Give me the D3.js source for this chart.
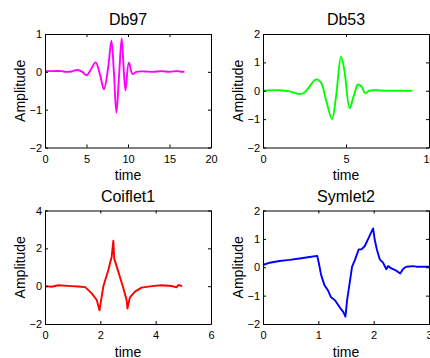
<!DOCTYPE html>
<html><head><meta charset="utf-8">
<script src="https://cdn.jsdelivr.net/npm/d3@7"></script>
<style>
body{margin:0;background:#fff}
svg{display:block}
text{font-family:Arial,"Liberation Sans",sans-serif;fill:#000}
</style>
</head><body><svg id="c" width="430" height="358"></svg>
<script>
// ---- data ----
const titles = ["Db97", "Db53", "Coiflet1", "Symlet2"];
const xLabel = "time";
const yLabel = "Amplitude";

const db97Time = [0,1,2,2.5,3.2,3.9,4.5,5.0,5.5,6.1,6.6,7.1,7.6,8.0,8.3,8.6,8.95,9.24,9.5,9.7,10.1,10.56,11.0,12,13,14,15,16,16.5,16.8];
const db97Amp  = [0.02,0.02,0.02,0.0,0.01,0.05,0.0,-0.09,0.05,0.25,-0.05,-0.46,0.1,0.82,0.0,-1.08,0.0,0.88,0.0,-0.49,0.24,-0.06,0.0,0.01,0.0,0.02,0.0,0.02,0.0,0.01];

const db53Time = [0,1.0,1.6,2.2,2.5,3.2,3.5,3.8,4.16,4.4,4.7,4.9,5.22,5.46,5.72,5.94,6.16,6.4,6.7,7.5,8.3,9.0];
const db53Amp  = [0,0.02,-0.02,-0.12,-0.06,0.4,0.28,-0.33,-1.0,-0.2,1.2,0.73,-0.62,-0.2,0.22,0.14,-0.09,0.0,0.02,0.0,0.0,0.0];

const coifTime = [0,0.24,0.48,0.96,1.2,1.45,1.69,1.87,1.97,2.11,2.29,2.41,2.47,2.5,2.65,2.83,2.95,2.98,3.07,3.25,3.49,3.86,4.2,4.58,4.76,4.82,4.96];
const coifAmp  = [0.0,-0.03,0.05,0.0,-0.02,-0.05,-0.38,-0.73,-1.28,0.0,0.85,1.56,2.4,1.47,0.77,-0.1,-0.73,-1.18,-0.59,-0.29,-0.08,0.0,0.05,0.01,-0.06,0.06,0.0];

const symTime = [0,0.12,0.3,0.48,0.66,0.84,0.98,1.01,1.05,1.11,1.17,1.23,1.3,1.39,1.45,1.49,1.52,1.57,1.61,1.66,1.73,1.78,1.84,1.92,1.99,2.02,2.06,2.11,2.17,2.23,2.26,2.32,2.41,2.48,2.53,2.59,2.71,2.77,3.0];
const symAmp  = [0.08,0.16,0.22,0.26,0.31,0.36,0.4,0.14,-0.27,-0.63,-0.8,-1.06,-1.16,-1.42,-1.57,-1.74,-1.16,-0.51,0.02,0.25,0.63,0.63,0.75,1.08,1.37,0.96,0.61,0.28,0.16,-0.07,0.04,-0.04,-0.12,-0.22,-0.06,0.02,0.04,0.02,0.02];

const xTicks = [[0,5,10,15,20],[0,5,10],[0,2,4,6],[0,1,2,3]];
const yTicks = [[-2,-1,0,1],[-2,-1,0,1,2],[-2,0,2,4],[-2,-1,0,1,2]];
const xDomains = [[0,20],[0,10],[0,6],[0,3]];
const yDomains = [[-2,1],[-2,2],[-2,4],[-2,2]];
const colors = ["#ff00ff","#00ff00","#ff0000","#0000ff"];
const smooth = [true, true, false, false];

const series = [
  [db97Time, db97Amp],
  [db53Time, db53Amp],
  [coifTime, coifAmp],
  [symTime, symAmp]
];

// ---- layout ----
const cols = [[45, 211], [263, 429]];
const rows = [[34, 147.5], [210.5, 324]];

const svg = d3.select("#c");

series.forEach((s, i) => {
  const col = cols[i % 2], row = rows[Math.floor(i / 2)];
  const x = d3.scaleLinear().domain(xDomains[i]).range(col);
  const y = d3.scaleLinear().domain(yDomains[i]).range([row[1], row[0]]);
  const g = svg.append("g");

  const data = s[0].map((t, k) => [t, s[1][k]]);
  const line = d3.line().x(d => x(d[0])).y(d => y(d[1]))
    .curve(smooth[i] ? d3.curveCatmullRom.alpha(0.5) : d3.curveLinear);
  g.append("path").datum(data).attr("d", line)
    .attr("fill", "none").attr("stroke", colors[i])
    .attr("stroke-width", 1.9).attr("stroke-linejoin", "round");

  const styleAxis = sel => {
    sel.selectAll("path.domain").attr("stroke", "#000").attr("stroke-width", 1);
    sel.selectAll(".tick line").attr("stroke", "#000");
    sel.selectAll("text").attr("font-size", 11).attr("fill", "#000")
      .attr("font-family", "Arial, 'Liberation Sans', sans-serif");
  };

  g.append("g").attr("transform", `translate(0,${row[1]})`)
    .call(d3.axisBottom(x).tickValues(xTicks[i]).tickFormat(d3.format("d"))
      .tickSizeInner(-3).tickSizeOuter(0).tickPadding(7.5))
    .call(styleAxis);
  g.append("g").attr("transform", `translate(0,${row[0]})`)
    .call(d3.axisTop(x).tickValues(xTicks[i]).tickFormat("")
      .tickSizeInner(-3).tickSizeOuter(0))
    .call(styleAxis);
  g.append("g").attr("transform", `translate(${col[0]},0)`)
    .call(d3.axisLeft(y).tickValues(yTicks[i]).tickFormat(d3.format("d"))
      .tickSizeInner(-3).tickSizeOuter(0).tickPadding(3))
    .call(styleAxis);
  g.append("g").attr("transform", `translate(${col[1]},0)`)
    .call(d3.axisRight(y).tickValues(yTicks[i]).tickFormat("")
      .tickSizeInner(-3).tickSizeOuter(0))
    .call(styleAxis);

  const cx = (col[0] + col[1]) / 2;
  g.append("text").attr("x", cx).attr("y", row[0] - 9)
    .attr("text-anchor", "middle").attr("font-size", 16).text(titles[i]);
  g.append("text").attr("x", cx).attr("y", row[1] + 32.5)
    .attr("text-anchor", "middle").attr("font-size", 14).text(xLabel);
  g.append("text")
    .attr("transform", `translate(${col[0] - 20},${(row[0] + row[1]) / 2}) rotate(-90)`)
    .attr("text-anchor", "middle").attr("font-size", 14).text(yLabel);
});
</script>
</body></html>
